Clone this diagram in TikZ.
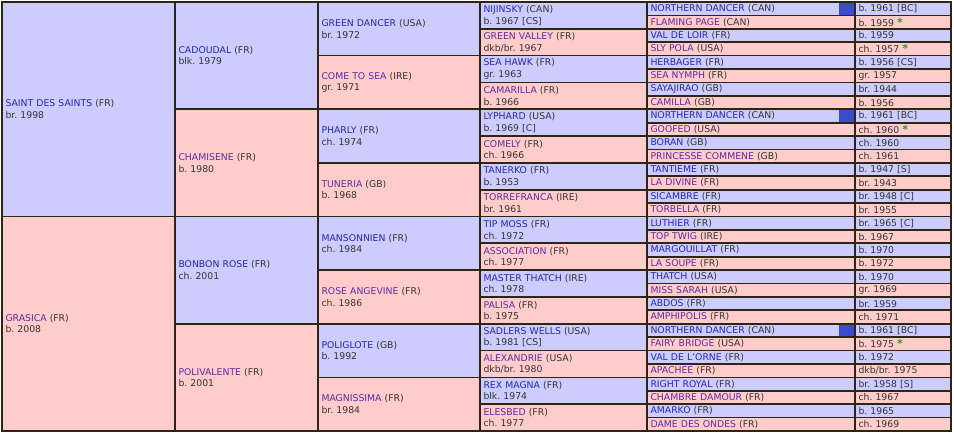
\documentclass[tikz,border=0pt]{standalone}
\usepackage{fontspec}
\setmainfont{DejaVu Sans}
\frenchspacing
\definecolor{rim}{HTML}{2E2612}
\definecolor{sirefill}{HTML}{CCCCFF}
\definecolor{damfill}{HTML}{FFCCCC}
\definecolor{name1}{HTML}{2828B0}
\definecolor{name0}{HTML}{5E2A9E}
\definecolor{info}{HTML}{333333}
\definecolor{starcol}{HTML}{2E9A22}
\definecolor{boxblue}{HTML}{3A4CCB}
\newcommand\gstar{\textcolor{starcol}{\bfseries\fontsize{11}{11}\selectfont*}}
\tikzset{
  cell/.style={draw=rim,line width=1.7pt,anchor=north west,outer sep=0pt,inner xsep=3.5pt,inner ysep=0pt,align=left,text=info},
  sex1/.style={fill=sirefill},
  sex0/.style={fill=damfill}
}
\begin{document}
\begin{tikzpicture}[x=1pt,y=-1pt,font=\fontsize{9.3}{11.5}\selectfont]
\fill[white] (0,0) rectangle (954,437);
\useasboundingbox (0,0) rectangle (954,437);
\foreach \nm/\ct/\yr [count=\i] in {SAINT DES SAINTS/FR/br. 1998, GRASICA/FR/b. 2008}{
  \pgfmathtruncatemacro\sx{mod(\i,2)}
  \node[cell,sex\sx,text width=166pt,minimum height=214.5pt] (ga\i) at (2,{2+(\i-1)*214.5}) {\textcolor{name\sx}{\nm} (\ct)\\\yr};
}
\foreach \nm/\ct/\yr [count=\i] in {CADOUDAL/FR/blk. 1979, CHAMISENE/FR/b. 1980,
    BONBON ROSE/FR/ch. 2001, POLIVALENTE/FR/b. 2001}{
  \pgfmathtruncatemacro\sx{mod(\i,2)}
  \node[cell,sex\sx,text width=136pt,minimum height=107.25pt] (gb\i) at (175,{2+(\i-1)*107.25}) {\textcolor{name\sx}{\nm} (\ct)\\\yr};
}
\foreach \nm/\ct/\yr [count=\i] in {GREEN DANCER/USA/br. 1972, COME TO SEA/IRE/gr. 1971,
    PHARLY/FR/ch. 1974, TUNERIA/GB/b. 1968, MANSONNIEN/FR/ch. 1984, ROSE ANGEVINE/FR/ch. 1986,
    POLIGLOTE/GB/b. 1992, MAGNISSIMA/FR/br. 1984}{
  \pgfmathtruncatemacro\sx{mod(\i,2)}
  \node[cell,sex\sx,text width=155pt,minimum height=53.625pt] (gc\i) at (318,{2+(\i-1)*53.625}) {\textcolor{name\sx}{\nm} (\ct)\\\yr};
}
\foreach \nm/\ct/\yr [count=\i] in {NIJINSKY/CAN/{b. 1967 [CS]}, GREEN VALLEY/FR/{dkb/br. 1967},
    SEA HAWK/FR/gr. 1963, CAMARILLA/FR/b. 1966, LYPHARD/USA/{b. 1969 [C]}, COMELY/FR/ch. 1966,
    TANERKO/FR/b. 1953, TORREFRANCA/IRE/br. 1961, TIP MOSS/FR/ch. 1972, ASSOCIATION/FR/ch. 1977,
    MASTER THATCH/IRE/ch. 1978, PALISA/FR/b. 1975, SADLERS WELLS/USA/{b. 1981 [CS]},
    ALEXANDRIE/USA/{dkb/br. 1980}, REX MAGNA/FR/blk. 1974, ELESBED/FR/ch. 1977}{
  \pgfmathtruncatemacro\sx{mod(\i,2)}
  \node[cell,sex\sx,text width=160pt,minimum height=26.8125pt] (gd\i) at (480,{2+(\i-1)*26.8125}) {\textcolor{name\sx}{\nm} (\ct)\\\yr};
}
\foreach \nm/\ct/\yr [count=\i] in {NORTHERN DANCER/CAN/{b. 1961 [BC]}, FLAMING PAGE/CAN/{b. 1959 \gstar},
    VAL DE LOIR/FR/b. 1959, SLY POLA/USA/{ch. 1957 \gstar}, HERBAGER/FR/{b. 1956 [CS]},
    SEA NYMPH/FR/gr. 1957, SAYAJIRAO/GB/br. 1944, CAMILLA/GB/b. 1956,
    NORTHERN DANCER/CAN/{b. 1961 [BC]}, GOOFED/USA/{ch. 1960 \gstar}, BORAN/GB/ch. 1960,
    PRINCESSE COMMENE/GB/ch. 1961, TANTIEME/FR/{b. 1947 [S]}, LA DIVINE/FR/br. 1943,
    SICAMBRE/FR/{br. 1948 [C]}, TORBELLA/FR/br. 1955, LUTHIER/FR/{br. 1965 [C]},
    TOP TWIG/IRE/b. 1967, MARGOUILLAT/FR/b. 1970, LA SOUPE/FR/b. 1972, THATCH/USA/b. 1970,
    MISS SARAH/USA/gr. 1969, ABDOS/FR/br. 1959, AMPHIPOLIS/FR/ch. 1971,
    NORTHERN DANCER/CAN/{b. 1961 [BC]}, FAIRY BRIDGE/USA/{b. 1975 \gstar}, VAL DE L'ORNE/FR/b. 1972,
    APACHEE/FR/{dkb/br. 1975}, RIGHT ROYAL/FR/{br. 1958 [S]}, CHAMBRE DAMOUR/FR/ch. 1967,
    AMARKO/FR/b. 1965, DAME DES ONDES/FR/ch. 1969}{
  \pgfmathtruncatemacro\sx{mod(\i,2)}
  \node[cell,sex\sx,text width=201pt,minimum height=13.40625pt] (ge\i) at (647,{2+(\i-1)*13.40625}) {\textcolor{name\sx}{\nm} (\ct)};
  \node[cell,sex\sx,text width=89pt,minimum height=13.40625pt] (yr\i) at (855,{2+(\i-1)*13.40625}) {\yr};
}
\foreach \i in {1,9,25}
  \node[fill=boxblue,inner sep=0pt,outer sep=0pt,anchor=east,minimum width=15pt,minimum height=11.6pt] (mk\i) at ([xshift=-0.85pt]ge\i.east) {};
\end{tikzpicture}
\end{document}
